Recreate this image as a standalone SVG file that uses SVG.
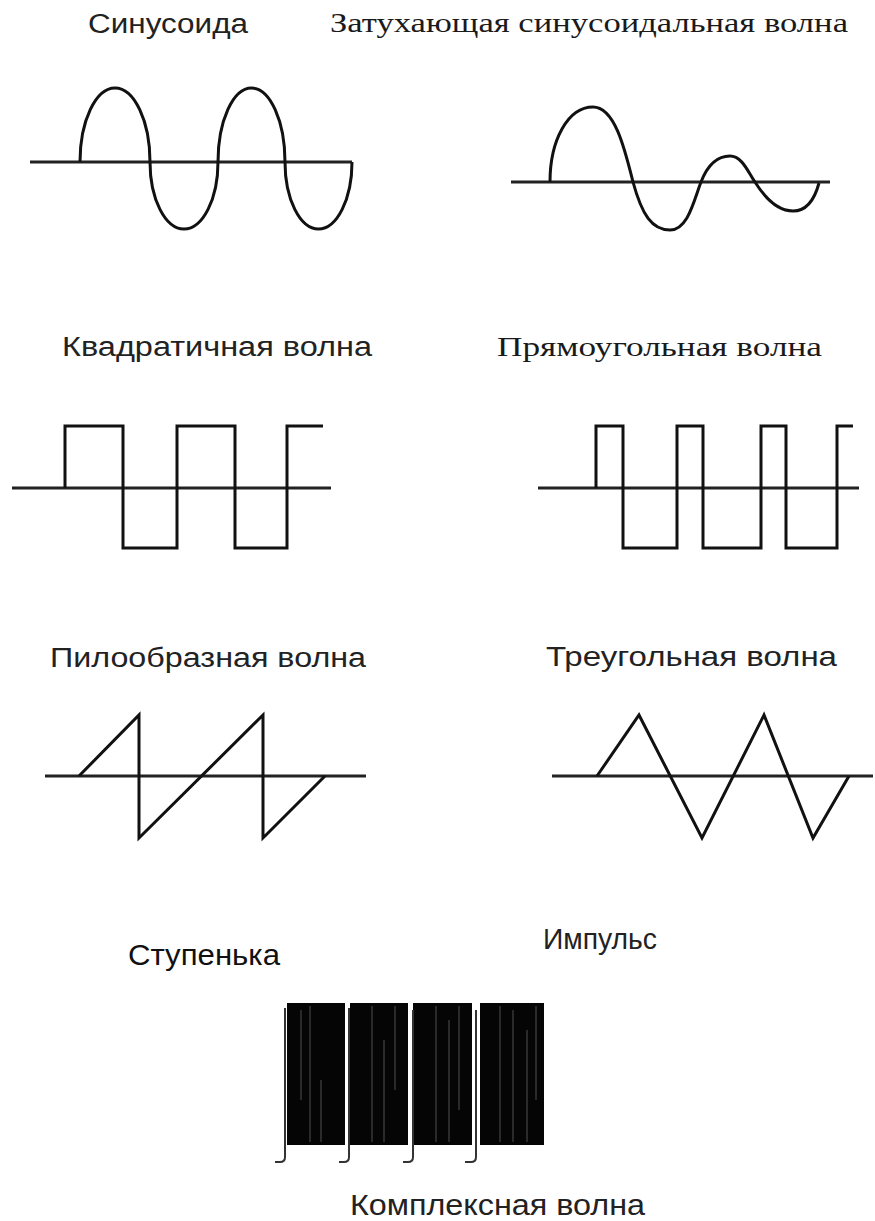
<svg xmlns="http://www.w3.org/2000/svg" width="875" height="1221" viewBox="0 0 875 1221">
<style>
.sans{font-family:"Liberation Sans",Arial,sans-serif;fill:#222;}
.serif{font-family:"Liberation Serif","Times New Roman",serif;fill:#1a1a1a;}
.axis{fill:none;stroke:#222;stroke-width:3;}
.wave{fill:none;stroke:#111;stroke-width:3;stroke-linejoin:miter;}
.hook{fill:none;stroke:#333;stroke-width:2;}
.bar{fill:#050505;}
.streak{stroke:#fff;stroke-opacity:0.3;stroke-width:1;}
</style>
<rect width="875" height="1221" fill="#fff"/>

<g id="sine">
<text class="sans" x="88" y="33" font-size="27" textLength="160" lengthAdjust="spacingAndGlyphs">Синусоида</text>
<path class="axis" d="M30,162 H352"/>
<path class="wave" d="M80,162 A35,74 0 0 1 150,162 A34,67 0 0 0 218,162 A33.5,74 0 0 1 285,162 A33.5,67 0 0 0 352,162"/>
</g>

<g id="damped">
<text class="serif" x="330" y="32" font-size="27" textLength="518" lengthAdjust="spacingAndGlyphs">Затухающая синусоидальная волна</text>
<path class="axis" d="M511,182 H830"/>
<path class="wave" d="M550,182 C550,140 568,107 593,107 C615,107 625,150 633,182 C642,215 652,230 670,230 C688,230 694,200 701,182 C708,164 718,156 730,156 C742,156 748,172 755,182 C765,198 778,211 793,211 C808,211 815,198 819,183"/>
</g>

<g id="square">
<text class="sans" x="62" y="356" font-size="27" textLength="310" lengthAdjust="spacingAndGlyphs">Квадратичная волна</text>
<path class="axis" d="M12,488 H331"/>
<path class="wave" d="M65,488 V426 H123 V548 H177 V426 H235 V548 H287 V426 H323"/>
</g>

<g id="rect">
<text class="serif" x="497" y="356" font-size="27" textLength="325" lengthAdjust="spacingAndGlyphs">Прямоугольная волна</text>
<path class="axis" d="M538,488 H859"/>
<path class="wave" d="M596,488 V426 H623 V548 H677 V426 H703 V548 H761 V426 H786 V548 H837 V426 H853"/>
</g>

<g id="saw">
<text class="sans" x="50" y="667" font-size="27" textLength="316" lengthAdjust="spacingAndGlyphs">Пилообразная волна</text>
<path class="axis" d="M45,776 H366"/>
<path class="wave" d="M79,776 L139,715 V838 L263,715 V838 L325,776"/>
</g>

<g id="triangle">
<text class="sans" x="546" y="666" font-size="28" textLength="291" lengthAdjust="spacingAndGlyphs">Треугольная  волна</text>
<path class="axis" d="M552,776 H873"/>
<path class="wave" d="M597,776 L639,715 L702,838 L764,715 L813,838 L849,776"/>
</g>

<g id="step">
<text class="sans" x="128" y="965" font-size="30" textLength="152" lengthAdjust="spacingAndGlyphs" style="fill:#111">Ступенька</text>
</g>

<g id="impulse">
<text class="sans" x="543" y="949" font-size="29" textLength="114" lengthAdjust="spacingAndGlyphs">Импульс</text>
</g>

<g id="complex">
<rect class="bar" x="287" y="1003" width="58" height="142"/>
<rect class="bar" x="350" y="1003" width="58" height="142"/>
<rect class="bar" x="413" y="1003" width="59" height="142"/>
<rect class="bar" x="480" y="1003" width="64" height="142"/>
<path class="streak" d="M310,1006 V1142 M321,1080 V1142 M301,1010 V1100 M372,1006 V1142 M384,1040 V1142 M395,1006 V1090 M436,1006 V1142 M449,1020 V1142 M459,1006 V1110 M500,1006 V1142 M513,1010 V1142 M527,1030 V1142 M536,1006 V1100"/>
<path class="hook" d="M285,1008 V1157 Q285,1162 280,1162 H275"/>
<path class="hook" d="M349,1008 V1157 Q349,1162 344,1162 H339"/>
<path class="hook" d="M413,1010 V1157 Q413,1162 408,1162 H403"/>
<path class="hook" d="M476,1010 V1157 Q476,1162 471,1162 H465"/>
<text class="sans" x="350" y="1215" font-size="30" textLength="295" lengthAdjust="spacingAndGlyphs">Комплексная  волна</text>
</g>
</svg>
